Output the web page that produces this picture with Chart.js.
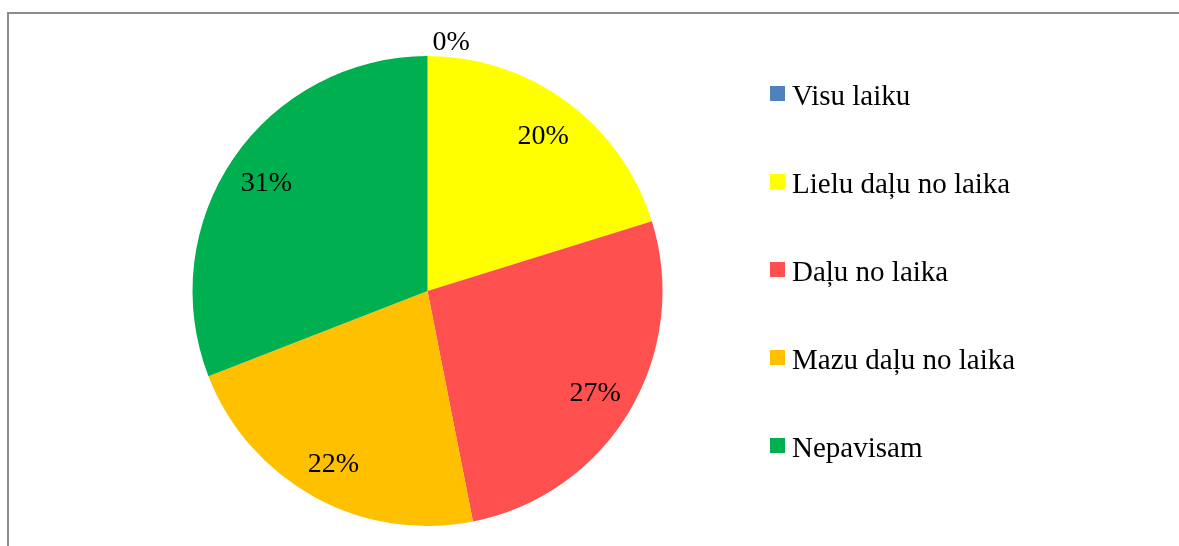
<!DOCTYPE html>
<html>
<head>
<meta charset="utf-8">
<script src="https://cdn.jsdelivr.net/npm/chart.js@4/dist/chart.umd.min.js"></script>
<style>
  html, body { margin: 0; padding: 0; background: #fff; overflow: hidden; }
  #frame { position: absolute; left: 7px; top: 12px; width: 2000px; height: 2000px;
           border-left: 2px solid #8c8c8c; border-top: 2px solid #8c8c8c; }
  #wrap { position: absolute; left: 0; top: 0; width: 1179px; height: 546px; }
</style>
</head>
<body>
<div id="frame"></div>
<div id="wrap"><canvas id="pieChart"></canvas></div>
<script>
const categories = ['Visu laiku', 'Lielu daļu no laika', 'Daļu no laika', 'Mazu daļu no laika', 'Nepavisam'];
const shares = [0, 20.2, 26.7, 22.2, 30.9];
const colors = ['#4F81BD', '#FFFF00', '#FF5050', '#FFC000', '#00B050'];

const fontFamily = '"Liberation Serif", "Times New Roman", serif';

// percentage labels on the slices (0% slice goes above the pie)
const sliceLabels = {
    id: 'sliceLabels',
    afterDatasetsDraw(chart) {
        const ctx = chart.ctx;
        const meta = chart.getDatasetMeta(0);
        const total = shares.reduce((a, b) => a + b, 0);
        ctx.save();
        ctx.fillStyle = '#000';
        ctx.font = '28px ' + fontFamily;
        meta.data.forEach((arc, i) => {
            const p = arc.getProps(['x', 'y', 'startAngle', 'endAngle', 'outerRadius'], true);
            const text = Math.round(shares[i] / total * 100) + '%';
            if (shares[i] === 0) {
                ctx.textAlign = 'left';
                ctx.textBaseline = 'alphabetic';
                ctx.fillText(text, p.x + 5, p.y - p.outerRadius - 6);
                return;
            }
            const mid = (p.startAngle + p.endAngle) / 2;
            const r = p.outerRadius * 0.83;
            ctx.textAlign = 'center';
            ctx.textBaseline = 'middle';
            ctx.fillText(text, p.x + Math.cos(mid) * r, p.y + Math.sin(mid) * r + 3);
        });
        ctx.restore();
    }
};

// legend on the right, square markers
const sideLegend = {
    id: 'sideLegend',
    afterDraw(chart) {
        const ctx = chart.ctx;
        ctx.save();
        ctx.font = '29px ' + fontFamily;
        ctx.textAlign = 'left';
        ctx.textBaseline = 'alphabetic';
        categories.forEach((name, i) => {
            const cy = 93.5 + i * 88;
            ctx.fillStyle = colors[i];
            ctx.fillRect(770, cy - 7.5, 15, 15);
            ctx.fillStyle = '#000';
            ctx.fillText(name, 792, cy + 11);
        });
        ctx.restore();
    }
};

const config = {
    type: 'pie',
    data: {
        labels: categories,
        datasets: [{
            data: shares,
            backgroundColor: colors,
            borderWidth: 0
        }]
    },
    options: {
        responsive: true,
        maintainAspectRatio: false,
        animation: false,
        layout: { padding: { top: 56, bottom: 20, left: 192, right: 516 } },
        plugins: {
            legend: { display: false },
            tooltip: { enabled: false }
        }
    },
    plugins: [sliceLabels, sideLegend]
};

var ctx = document.getElementById('pieChart').getContext('2d');
new Chart(ctx, config);
</script>
</body>
</html>
